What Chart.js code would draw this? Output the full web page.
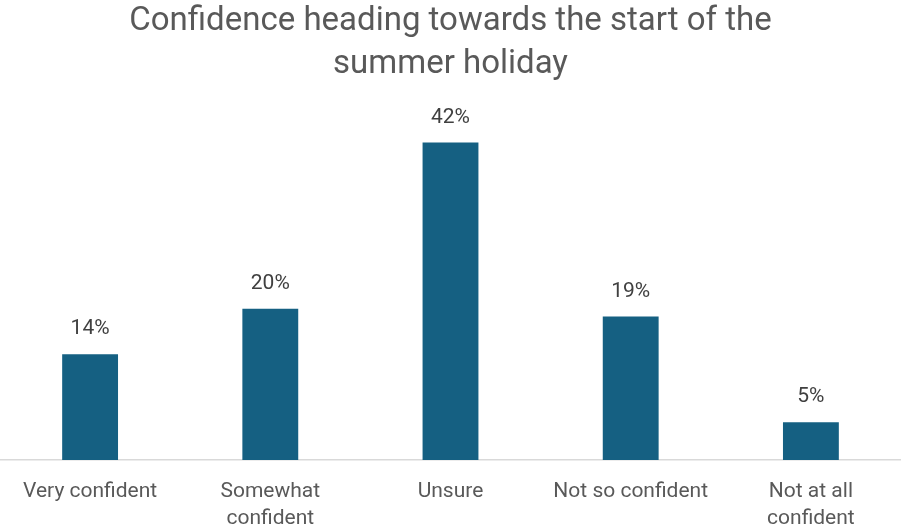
<!DOCTYPE html>
<html lang="en">
<head>
  <meta charset="UTF-8" />
  <title>Confidence heading towards the start of the summer holiday</title>
  <script src="https://cdn.jsdelivr.net/npm/chart.js"></script>
  <style>
    html, body { margin: 0; padding: 0; background: #fff; }
    #wrap { width: 901px; height: 530px; position: relative; }
  </style>
</head>
<body>
  <div id="wrap"><canvas id="confChart"></canvas></div>

  <script>
    // answer categories (multi-line ones split for the axis)
    const categories = [
      'Very confident',
      ['Somewhat', 'confident'],
      'Unsure',
      'Not so confident',
      ['Not at all', 'confident']
    ];
    // share of respondents, in percent
    const shares = [14, 20, 42, 19, 5];

    const barColor = '#156082';
    const fontFamily = 'Roboto, "Noto Sans", sans-serif';

    // writes the percentage above each bar
    const valueLabels = {
      id: 'valueLabels',
      afterDatasetsDraw(chart) {
        const ctx = chart.ctx;
        const meta = chart.getDatasetMeta(0);
        ctx.save();
        ctx.font = '21px ' + fontFamily;
        ctx.fillStyle = '#404040';
        ctx.textAlign = 'center';
        ctx.textBaseline = 'middle';
        meta.data.forEach((bar, i) => {
          ctx.fillText(shares[i] + '%', bar.x, bar.y - 25);
        });
        ctx.restore();
      }
    };

    const ctx = document.getElementById('confChart').getContext('2d');
    new Chart(ctx, {
      type: 'bar',
      data: {
        labels: categories,
        datasets: [{
          data: shares,
          backgroundColor: barColor,
          borderWidth: 0,
          categoryPercentage: 1,
          barPercentage: 0.31
        }]
      },
      options: {
        responsive: true,
        maintainAspectRatio: false,
        animation: false,
        layout: { padding: 0 },
        plugins: {
          legend: { display: false },
          tooltip: { enabled: false },
          title: {
            display: true,
            text: ['Confidence heading towards the start of the', 'summer holiday'],
            color: '#595959',
            font: { family: fontFamily, size: 33, weight: 'normal', lineHeight: 1.3 },
            padding: { top: 0, bottom: 19 }
          }
        },
        scales: {
          x: {
            grid: { display: false, drawTicks: false },
            border: { display: true, color: '#d9d9d9', width: 1.5 },
            ticks: {
              color: '#595959',
              font: { family: fontFamily, size: 21, lineHeight: 1.29 },
              padding: 18,
              maxRotation: 0,
              autoSkip: false
            },
            afterFit(scale) { scale.height = 70; }
          },
          y: {
            display: false,
            min: 0,
            max: 47
          }
        }
      },
      plugins: [valueLabels]
    });
  </script>
</body>
</html>
